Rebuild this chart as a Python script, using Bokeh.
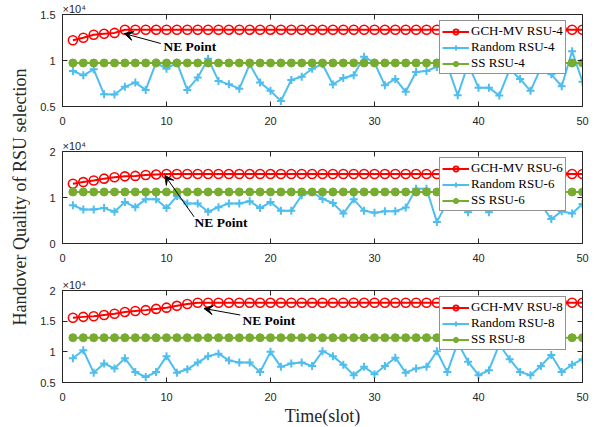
import math
from bokeh.plotting import figure
from bokeh.layouts import column, row
from bokeh.models import (ColumnDataSource, FixedTicker, CustomJSTickFormatter, LinearAxis,
                          Label, Arrow, VeeHead, Legend, LegendItem, Range1d, Title)
from bokeh.embed import file_html
from bokeh.resources import INLINE

# ---------------- data (values in units of 10^4) ----------------
slots = list(range(1, 51))
x_ticks = [0, 10, 20, 30, 40, 50]

gch_rsu4 = [1.22, 1.247, 1.28, 1.29, 1.30, 1.335, 1.335, 1.335, 1.335, 1.335,
            1.335, 1.335, 1.335, 1.335, 1.335, 1.335, 1.335, 1.335, 1.335, 1.335,
            1.335, 1.335, 1.335, 1.335, 1.335, 1.335, 1.335, 1.335, 1.335, 1.335,
            1.335, 1.335, 1.335, 1.335, 1.335, 1.335, 1.335, 1.335, 1.335, 1.335,
            1.335, 1.335, 1.335, 1.335, 1.335, 1.335, 1.335, 1.335, 1.335, 1.335]
random_rsu4 = [0.886, 0.839, 0.904, 0.633, 0.63, 0.716, 0.76, 0.68, 0.976, 0.91,
               0.976, 0.68, 0.814, 1.02, 0.778, 0.741, 0.694, 0.958, 0.76, 0.67,
               0.56, 0.789, 0.824, 0.91, 0.96, 0.74, 0.81, 0.84, 1.04, 0.976,
               0.73, 0.80, 0.66, 0.875, 0.886, 0.93, 0.95, 0.622, 0.96, 0.705,
               0.705, 0.62, 0.904, 0.80, 0.67, 0.92, 0.85, 0.72, 1.10, 0.77]
ss_rsu4 = [0.973] * 50

gch_rsu6 = [1.30, 1.335, 1.37, 1.41, 1.44, 1.46, 1.47, 1.49, 1.50, 1.51,
            1.51, 1.51, 1.51, 1.51, 1.51, 1.51, 1.51, 1.51, 1.51, 1.51,
            1.51, 1.51, 1.51, 1.51, 1.51, 1.51, 1.51, 1.51, 1.51, 1.51,
            1.51, 1.51, 1.51, 1.51, 1.51, 1.51, 1.51, 1.51, 1.51, 1.51,
            1.51, 1.51, 1.51, 1.51, 1.51, 1.51, 1.51, 1.51, 1.51, 1.51]
random_rsu6 = [0.83, 0.74, 0.74, 0.77, 0.69, 0.90, 0.79, 0.96, 0.96, 0.77,
               1.03, 0.87, 0.87, 0.69, 0.79, 0.87, 0.87, 0.92, 0.77, 0.90,
               0.71, 0.71, 1.05, 1.12, 0.97, 0.88, 0.65, 0.96, 0.71, 0.67,
               0.70, 0.70, 0.78, 1.19, 1.19, 0.47, 0.90, 0.85, 0.68, 0.90,
               0.68, 0.85, 0.95, 0.80, 0.90, 0.85, 0.53, 0.70, 0.65, 0.86]
ss_rsu6 = [1.12] * 50

gch_rsu8 = [1.556, 1.57, 1.58, 1.60, 1.62, 1.65, 1.665, 1.68, 1.70, 1.72,
            1.75, 1.78, 1.80, 1.80, 1.80, 1.80, 1.80, 1.80, 1.80, 1.80,
            1.80, 1.80, 1.80, 1.80, 1.80, 1.80, 1.80, 1.80, 1.80, 1.80,
            1.80, 1.80, 1.80, 1.80, 1.80, 1.80, 1.80, 1.80, 1.80, 1.80,
            1.80, 1.80, 1.80, 1.80, 1.80, 1.80, 1.80, 1.80, 1.80, 1.80]
random_rsu8 = [0.895, 1.025, 0.66, 0.81, 0.73, 0.895, 0.67, 0.59, 0.67, 0.93,
               0.66, 0.715, 0.825, 0.93, 0.97, 0.86, 0.825, 0.825, 0.67, 1.0,
               0.755, 0.81, 0.825, 0.77, 1.01, 0.93, 0.79, 0.62, 0.755, 0.635,
               0.77, 0.905, 0.66, 0.73, 0.755, 1.01, 0.67, 1.15, 0.84, 0.62,
               0.70, 1.12, 0.88, 0.67, 0.62, 0.77, 0.95, 0.67, 0.79, 0.88]
ss_rsu8 = [1.23] * 50

legend_rsu4 = ["GCH-MV RSU-4", "Random RSU-4", "SS RSU-4"]
legend_rsu6 = ["GCH-MV RSU-6", "Random RSU-6", "SS RSU-6"]
legend_rsu8 = ["GCH-MV RSU-8", "Random RSU-8", "SS RSU-8"]

y_range_rsu4 = (0.5, 1.5)
y_range_rsu6 = (0.0, 2.0)
y_range_rsu8 = (0.5, 2.0)
y_ticks_rsu4 = [0.5, 1, 1.5]
y_ticks_rsu6 = [0, 1, 2]
y_ticks_rsu8 = [0.5, 1, 1.5, 2]

# NE point annotation: (arrow head, arrow tail, text anchor) in data units
ne_rsu4 = ((5.93, 1.293), (9.45, 1.185), (9.7, 1.155))
ne_rsu6 = ((9.84, 1.48), (12.65, 0.58), (12.7, 0.45))
ne_rsu8 = ((13.6, 1.707), (17.1, 1.60), (17.3, 1.507))

RED = "#FF0000"
BLUE = "#4DBEEE"
GREEN = "#77AC30"
AX = "#262626"
SERIF = "Liberation Serif"
SANS = "Liberation Sans"


def style_axis(ax, ticker, hide_labels=False):
    ax.ticker = ticker
    ax.major_tick_in = 5
    ax.major_tick_out = 0
    ax.minor_tick_in = 0
    ax.minor_tick_out = 0
    ax.axis_line_color = AX
    ax.major_tick_line_color = AX
    ax.major_label_text_font = SANS
    ax.major_label_text_font_size = "11px"
    ax.major_label_text_color = AX
    if hide_labels:
        ax.formatter = CustomJSTickFormatter(code="return '';")
        ax.major_label_standoff = 0


def panel(gch, rnd, ss, labels, yr, yticks, ne, top, bottom, xlabel=None):
    title = Title(text="×10⁴", align="left", text_font=SANS, text_font_size="11px",
                  text_font_style="normal", text_color=AX, standoff=0, offset=0,
                  text_line_height=1.0)
    p = figure(frame_width=520, frame_height=92, x_range=Range1d(0, 50),
               y_range=Range1d(*yr), output_backend="svg", toolbar_location=None,
               title=title, min_border_left=32, min_border_right=10,
               min_border_top=top, min_border_bottom=bottom)
    p.grid.visible = False
    p.outline_line_color = AX
    xax = p.below[0]
    yax = p.left[0]
    style_axis(xax, FixedTicker(ticks=x_ticks))
    xax.major_label_standoff = 10
    style_axis(yax, FixedTicker(ticks=yticks))
    yax.formatter = CustomJSTickFormatter(code="return tick.toString();")
    yax.major_label_standoff = 7
    top_ax = LinearAxis()
    style_axis(top_ax, FixedTicker(ticks=x_ticks), hide_labels=True)
    p.add_layout(top_ax, "above")
    right_ax = LinearAxis()
    style_axis(right_ax, FixedTicker(ticks=yticks), hide_labels=True)
    p.add_layout(right_ax, "right")

    src = ColumnDataSource(dict(x=slots, gch=gch, rnd=rnd, ss=ss))
    l1 = p.line("x", "gch", source=src, line_color=RED, line_width=2)
    m1 = p.scatter("x", "gch", source=src, marker="circle", size=9,
                   fill_color=None, line_color=RED, line_width=1.6)
    l2 = p.line("x", "rnd", source=src, line_color=BLUE, line_width=2)
    m2 = p.scatter("x", "rnd", source=src, marker="cross", size=8,
                   line_color=BLUE, line_width=2)
    l3 = p.line("x", "ss", source=src, line_color=GREEN, line_width=2)
    m3 = p.scatter("x", "ss", source=src, marker="circle", size=8,
                   fill_color=GREEN, line_color=GREEN, line_width=1)

    (hx, hy), (tx, ty), (lx, ly) = ne
    p.add_layout(Arrow(end=VeeHead(size=9, fill_color="black", line_color="black",
                                   line_width=1),
                       x_start=tx, y_start=ty, x_end=hx, y_end=hy,
                       line_color="black", line_width=1))
    p.add_layout(Label(x=lx, y=ly, text="NE Point", text_font=SERIF,
                       text_font_style="bold", text_font_size="13.5px",
                       text_baseline="middle", text_align="left", text_color="black"))

    leg = Legend(items=[LegendItem(label=labels[0], renderers=[l1, m1]),
                        LegendItem(label=labels[1], renderers=[l2, m2]),
                        LegendItem(label=labels[2], renderers=[l3, m3])],
                 location=(377, 32), orientation="vertical",
                 label_text_font=SERIF, label_text_font_size="13px",
                 label_text_line_height=0.75,
                 label_text_color="black", glyph_width=27, glyph_height=13,
                 label_height=13, label_standoff=2, padding=2, spacing=0,
                 margin=0, border_line_color=AX, border_line_width=1,
                 background_fill_color="white", background_fill_alpha=1)
    p.add_layout(leg, "center")

    if xlabel:
        xax.axis_label = xlabel
        xax.axis_label_text_font = SERIF
        xax.axis_label_text_font_size = "18px"
        xax.axis_label_text_font_style = "normal"
        xax.axis_label_text_color = AX
        xax.axis_label_standoff = 2
    return p


p1 = panel(gch_rsu4, random_rsu4, ss_rsu4, legend_rsu4, y_range_rsu4, y_ticks_rsu4,
           ne_rsu4, 12, 22)
p2 = panel(gch_rsu6, random_rsu6, ss_rsu6, legend_rsu6, y_range_rsu6, y_ticks_rsu6,
           ne_rsu6, 23, 22)
p3 = panel(gch_rsu8, random_rsu8, ss_rsu8, legend_rsu8, y_range_rsu8, y_ticks_rsu8,
           ne_rsu8, 25, 47, xlabel="Time(slot)")

lab = figure(width=30, height=427, x_range=Range1d(0, 30), y_range=Range1d(0, 427),
             output_backend="svg", toolbar_location=None, title=None, min_border=0)
lab.xaxis.visible = False
lab.yaxis.visible = False
lab.grid.visible = False
lab.outline_line_color = None
lab.add_layout(Label(x=19, y=230.5, text="Handover Quality of RSU selection",
                     angle=math.pi / 2, text_align="center", text_baseline="middle",
                     text_font=SERIF, text_font_size="18px", text_color=AX))

root = row(lab, column(p1, p2, p3))

open("out.html", "w").write(file_html(root, INLINE))
